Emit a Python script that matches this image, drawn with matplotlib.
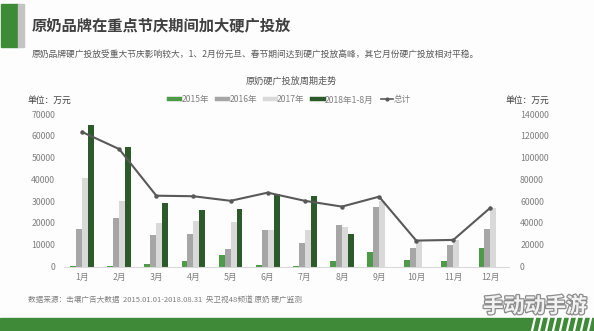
import matplotlib

matplotlib.use("Agg")
import matplotlib.pyplot as plt
import matplotlib.patheffects as pe
from matplotlib.lines import Line2D
from matplotlib.patches import Rectangle
import numpy as np

plt.rcParams["font.family"] = ["Noto Sans CJK SC", "DejaVu Sans"]

# data (万元)
months = ["1月", "2月", "3月", "4月", "5月", "6月",
          "7月", "8月", "9月", "10月", "11月", "12月"]
y2015 = [300, 300, 1200, 2500, 5200, 700, 200, 2300, 6600, 2800, 2300, 8600]
y2016 = [17000, 22100, 14600, 14900, 8200, 16600, 10700, 19000, 27300, 8600, 9800, 17200]
y2017 = [40500, 30100, 19800, 20900, 20200, 16800, 16900, 18100, 30100, 11700, 12000, 27000]
y2018 = [65000, 55000, 29200, 26000, 26200, 33200, 32400, 15100,
         np.nan, np.nan, np.nan, np.nan]
total = [123500, 107800, 65000, 64500, 60300, 67800, 60300, 55000,
         64100, 23800, 24400, 54000]
series_names = ["2015年", "2016年", "2017年", "2018年1-8月"]
left_ticks = [0, 10000, 20000, 30000, 40000, 50000, 60000, 70000]
right_ticks = [0, 20000, 40000, 60000, 80000, 100000, 120000, 140000]

G15 = "#4e9a48"
G16 = "#a6a6a6"
G17 = "#d9d9d9"
G18 = "#2c5a2a"
LINE = "#595959"
TXT = "#7f7f7f"
DARK = "#404040"
BAND = "#3f8a38"

W, H = 594, 331
fig = plt.figure(figsize=(W / 100, H / 100), dpi=100, facecolor="#fdfdfd")


def fx(px):
    return px / W


def fy(py):
    return 1 - py / H


# header block
fig.patches.append(Rectangle((fx(1), fy(47)), fx(17), (47 - 4) / H,
                             transform=fig.transFigure, color="#3d8b37"))
fig.patches.append(Rectangle((fx(18), fy(47)), fx(6), (47 - 4) / H,
                             transform=fig.transFigure, color="#c4c4c4"))
fig.text(fx(32), fy(25), "原奶品牌在重点节庆期间加大硬广投放", fontsize=11,
         fontweight="bold", color=DARK, va="center", ha="left")
fig.text(fx(32), fy(54), "原奶品牌硬广投放受重大节庆影响较大，1、2月份元旦、春节期间达到硬广投放高峰，其它月份硬广投放相对平稳。",
         fontsize=6.3, color="#595959", va="center", ha="left")

# chart
ax = fig.add_axes([fx(63.5), fy(266.5), (509 - 63.5) / W, (266.5 - 114) / H])
ax.set_facecolor("none")
x = np.arange(len(months))
bw = 0.16
cols = [G15, G16, G17, G18]
for i, (vals, c) in enumerate(zip([y2015, y2016, y2017, y2018], cols)):
    ax.bar(x + (i - 1.5) * bw, vals, bw, color=c, zorder=2)
ax.set_xlim(-0.5, len(months) - 0.5)
ax.set_ylim(0, 70000)
ax.set_yticks(left_ticks)
ax.set_xticks(x)
ax.set_xticklabels(months)
ax.tick_params(axis="both", length=0, labelsize=6.3, colors=TXT)
ax.tick_params(axis="y", pad=6)
ax.tick_params(axis="x", pad=5)
for s in ["top", "right", "left"]:
    ax.spines[s].set_visible(False)
ax.spines["bottom"].set_color("#d9d9d9")
ax.spines["bottom"].set_linewidth(0.8)

ax2 = ax.twinx()
ax2.plot(x, total, color=LINE, lw=1.5, marker="o", markersize=2.2, zorder=3)
ax2.set_ylim(0, 140000)
ax2.set_yticks(right_ticks)
ax2.tick_params(axis="y", length=0, labelsize=6.3, colors=TXT, pad=8)
for s in ax2.spines.values():
    s.set_visible(False)

fig.text(fx(291), fy(81), "原奶硬广投放周期走势", fontsize=6.6, color="#595959",
         ha="center", va="center")
fig.text(fx(28), fy(100), "单位：万元", fontsize=6.3, color=DARK, ha="left", va="center")
fig.text(fx(505), fy(100), "单位：万元", fontsize=6.3, color=DARK, ha="left", va="center")

handles = [Line2D([], [], color=c, lw=3.2) for c in cols]
handles.append(Line2D([], [], color=LINE, lw=1.2, marker="o", markersize=2))
fig.legend(handles, series_names + ["总计"], loc="center",
           bbox_to_anchor=(fx(290), fy(100)), ncol=5, frameon=False,
           fontsize=6.2, handlelength=1.3, handletextpad=0.15,
           columnspacing=0.9, labelcolor=TXT)

fig.text(fx(28), fy(300),
         "数据来源：击壤广告大数据  2015.01.01-2018.08.31  央卫视48频道 原奶 硬广监测",
         fontsize=5.5, color=TXT, ha="left", va="center")

# bottom band + watermark
fig.patches.append(Rectangle((0, 0), 1, (H - 318) / H,
                             transform=fig.transFigure, color=BAND))
for k in range(9):
    x0 = 532 + k * 7
    fig.lines.append(Line2D([fx(x0), fx(x0 + 3)], [fy(331), fy(318)],
                            transform=fig.transFigure, color="white", lw=1.6))
fig.text(fx(535), fy(306), "手动动手游", fontsize=15, fontweight="bold",
         color="#f2f2f2", ha="center", va="center",
         path_effects=[pe.withStroke(linewidth=1.8, foreground="#8c8c8c")])

fig.savefig("out.png", dpi=100, facecolor=fig.get_facecolor())
